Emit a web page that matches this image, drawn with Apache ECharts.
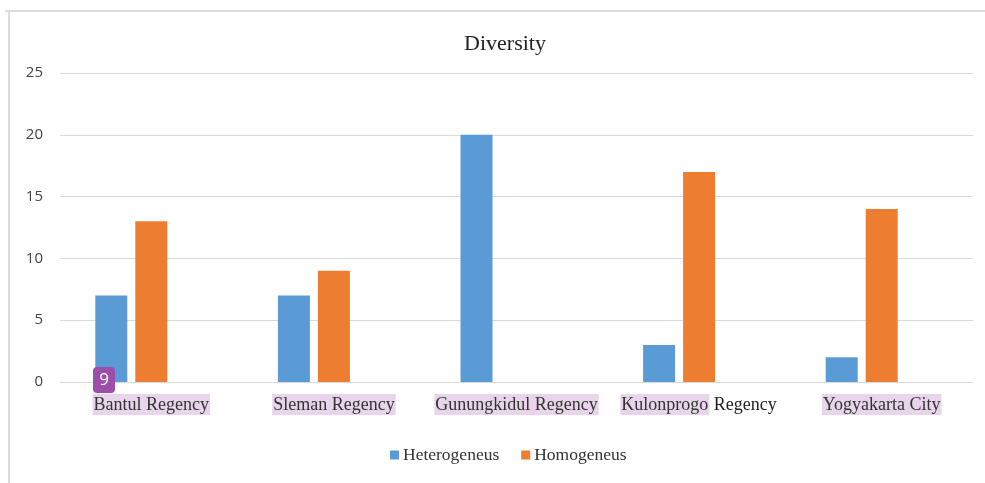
<!DOCTYPE html>
<html><head><meta charset="utf-8">
<script src="https://cdn.jsdelivr.net/npm/echarts@6/dist/echarts.min.js"></script>
<style>html,body{margin:0;padding:0;background:#fff}#c{width:985px;height:483px}</style>
</head><body><div id="c"></div>
<script>
const categories = ['Bantul Regency', 'Sleman Regency', 'Gunungkidul Regency', 'Kulonprogo Regency', 'Yogyakarta City'];
const heterogeneus = [7, 7, 20, 3, 2];
const homogeneus = [13, 9, 0, 17, 14];
const yTicks = [0, 5, 10, 15, 20, 25];
const seriesNames = ['Heterogeneus', 'Homogeneus'];

const chart = echarts.init(document.getElementById('c'));
const hl = 'rgba(220,190,225,0.65)';
const lf = 18;
chart.setOption({
  animation: false,
  backgroundColor: '#fff',
  title: { text: 'Diversity', top: 28, left: 500, textAlign: 'center',
    textStyle: { fontFamily: 'Liberation Serif', fontWeight: 'normal', fontSize: 22, color: '#222' } },
  grid: { left: 60, right: 12, top: 73, bottom: 101, containLabel: false },
  legend: { data: seriesNames, bottom: 14, left: 385, itemWidth: 9, itemHeight: 9, itemGap: 22,
    icon: 'rect',
    textStyle: { fontFamily: 'Liberation Serif', fontSize: 17.5, color: '#333', padding: [0,0,0,-1] } },
  xAxis: { type: 'category', data: categories,
    axisLine: { lineStyle: { color: '#d9d9d9' } }, axisTick: { show: false },
    axisLabel: { interval: 0, margin: 12, fontFamily: 'Liberation Serif', fontSize: lf, color: '#333',
      formatter: function (v) {
        if (v === 'Kulonprogo Regency') return '{h|Kulonprogo}{p| Regency}';
        return '{h|' + v + '}';
      },
      rich: {
        h: { backgroundColor: hl, fontFamily: 'Liberation Serif', fontSize: lf, color: '#333', padding: [2, 1, 1, 1] },
        p: { fontFamily: 'Liberation Serif', fontSize: lf, color: '#222', padding: [2, 1, 1, 0] }
      } } },
  yAxis: { type: 'value', min: yTicks[0], max: yTicks[yTicks.length - 1], interval: 5,
    axisLine: { show: false }, axisTick: { show: false },
    splitLine: { lineStyle: { color: '#d9d9d9' } },
    axisLabel: { margin: 17, fontFamily: 'Open Sans', fontSize: 15, color: '#444' } },
  series: [
    { name: seriesNames[0], type: 'bar', data: heterogeneus, barWidth: 32, barGap: '25%', barCategoryGap: '38%',
      itemStyle: { color: '#5B9BD5' } },
    { name: seriesNames[1], type: 'bar', data: homogeneus, barWidth: 32, barGap: '25%',
      itemStyle: { color: '#ED7D31' } },
    { name: '_empty', type: 'bar', data: categories.map(() => null), barWidth: 32, barGap: '25%' }
  ],
  graphic: [
    { type: 'line', shape: { x1: 5, y1: 11, x2: 985, y2: 11 }, style: { stroke: '#dcdcdc', lineWidth: 2 }, silent: true },
    { type: 'line', shape: { x1: 9, y1: 11, x2: 9, y2: 483 }, style: { stroke: '#dcdcdc', lineWidth: 2 }, silent: true },
    { type: 'group', left: 93, top: 367, z: 100, children: [
      { type: 'rect', z: 100, shape: { x: 0, y: 0, width: 22, height: 26, r: 4 }, style: { fill: '#9b4fa8' } },
      { type: 'text', z: 101, style: { x: 11, y: 13, text: '9', fill: '#fff', font: '17px "Open Sans"', align: 'center', verticalAlign: 'middle' } }
    ] }
  ]
});
</script></body></html>
